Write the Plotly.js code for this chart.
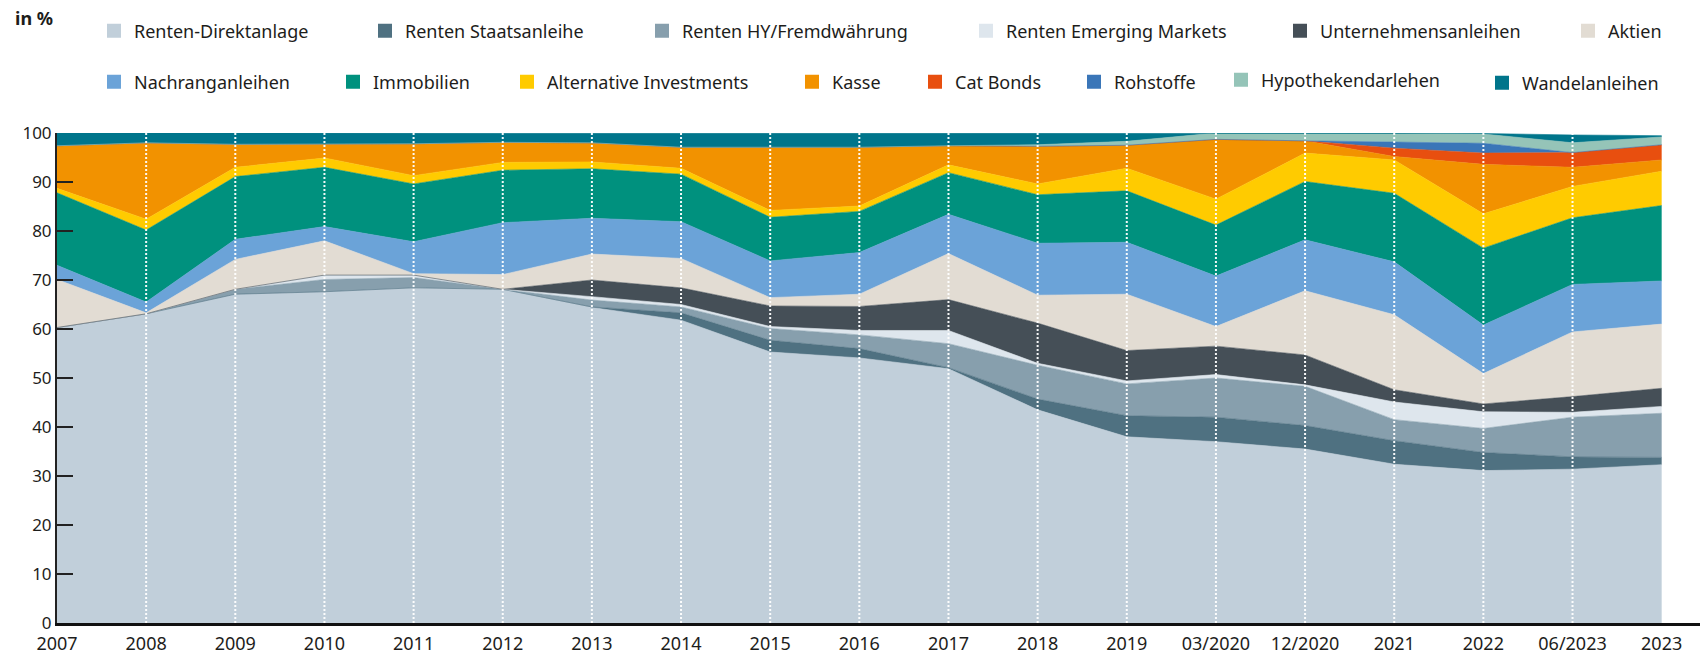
<!DOCTYPE html>
<html><head><meta charset="utf-8">
<script src="https://cdn.plot.ly/plotly-3.0.1.min.js"></script>
<style>html,body{margin:0;padding:0;background:#fff;} #chart{width:1703px;height:656px;}</style>
</head><body><div id="chart"></div>
<script>
// ---- data (values in %) ----
const categories = ["2007","2008","2009","2010","2011","2012","2013","2014","2015","2016","2017","2018","2019","03/2020","12/2020","2021","2022","06/2023","2023"];
const rentenDirektanlage   = [60.3,63.1,67.1,67.6,68.4,68.1,64.4,61.8,55.3,54.1,51.9,43.5,38.0,37.0,35.5,32.4,31.1,31.4,32.3];
const rentenStaatsanleihe  = [0,0,0,0,0,0,0.1,1.5,2.4,1.9,0.2,2.2,4.3,5.0,4.8,4.8,3.7,2.5,1.5];
const rentenHY             = [0,0,1.0,2.5,2.1,0,1.4,1.2,2.4,2.8,4.9,6.9,6.5,8.0,8.0,4.3,4.9,8.1,9.0];
const rentenEmerging       = [0,0,0,0.9,0.5,0,0.7,0.5,0.4,0.9,2.7,0.4,0.6,0.7,0.3,3.6,3.4,1.0,1.4];
const unternehmensanleihen = [0,0,0,0,0,0,3.4,3.4,4.2,4.9,6.3,8.2,6.2,5.8,6.1,2.5,1.6,3.2,3.7];
const aktien               = [9.8,0.2,6.1,7.0,0.3,3.0,5.3,6.0,1.7,2.5,9.4,5.7,11.5,4.0,13.1,15.3,6.2,13.2,13.1];
const nachranganleihen     = [2.9,2.2,4.1,2.9,6.5,10.6,7.3,7.5,7.5,8.5,8.0,10.6,10.6,10.3,10.4,10.8,9.9,9.7,8.8];
const immobilien           = [14.8,14.7,12.8,12.1,11.8,10.7,10.1,9.7,8.9,8.4,8.5,9.9,10.5,10.4,11.9,14.0,15.7,13.6,15.4];
const alternativeInvest    = [0.9,2.2,1.9,1.9,1.7,1.6,1.4,1.2,1.4,1.1,1.6,2.2,4.6,5.3,5.8,6.8,7.0,6.4,7.0];
const kasse                = [8.7,15.6,4.7,2.8,6.5,4.1,3.9,4.3,12.9,12.0,3.9,7.7,4.7,12.2,2.5,0.7,10.1,3.9,2.3];
const catBonds             = [0,0,0,0,0,0,0,0,0,0,0,0,0,0,0,1.7,2.3,3.0,3.1];
const rohstoffe            = [0,0,0,0,0,0,0,0,0,0,0,0,0,0,0,1.3,2.0,0,0];
const hypothekendarlehen   = [0,0,0,0,0,0,0,0,0,0,0,0.3,0.8,1.3,1.6,1.8,1.9,2.0,1.6];
const wandelanleihen       = [2.6,2.0,2.3,2.3,2.2,1.9,2.0,2.9,2.9,2.9,2.6,2.4,1.7,0,0,0,0.1,1.6,0.25];
const yTicks = [0,10,20,30,40,50,60,70,80,90,100];

const seriesNames = ["Renten-Direktanlage","Renten Staatsanleihe","Renten HY/Fremdwährung","Renten Emerging Markets","Unternehmensanleihen","Aktien","Nachranganleihen","Immobilien","Alternative Investments","Kasse","Cat Bonds","Rohstoffe","Hypothekendarlehen","Wandelanleihen"];
const seriesValues = [rentenDirektanlage,rentenStaatsanleihe,rentenHY,rentenEmerging,unternehmensanleihen,aktien,nachranganleihen,immobilien,alternativeInvest,kasse,catBonds,rohstoffe,hypothekendarlehen,wandelanleihen];

// ---- styles ----
const seriesColors = ["#c1cfda","#4f7181","#879fad","#dee6ed","#454f57","#e2dcd3","#6ba3d8","#00917e","#ffcb00","#f29200","#e84f0f","#3a76b8","#95c4b8","#00758b"];
// legend item spots: [text-left px, center-y px] in the 1703x656 page
const legendSpots = [[134,31],[405,31],[682,31],[1006,31],[1320,31],[1608,31],
                     [134,82],[373,82],[547,82],[832,82],[955,82],[1114,82],[1261,80],[1522,83]];
const W = 1703, H = 656;
const FONT = "'Noto Sans', 'Open Sans', sans-serif";
const TXT = "#1d1d1b";

const traces = [];
seriesNames.forEach((name, i) => {
  traces.push({
    type: "scatter", mode: "lines", name: name,
    x: categories, y: seriesValues[i],
    stackgroup: "one", fillcolor: seriesColors[i],
    line: {width: 0.6, color: seriesColors[i], shape: "linear"},
    showlegend: false, legendgroup: "g" + i,
    hovertemplate: name + ": %{y}<extra></extra>"
  });
});
// legend entries (square markers)
seriesNames.forEach((name, i) => {
  traces.push({
    type: "scatter", mode: "markers", name: name,
    x: [categories[0]], y: [null],
    marker: {symbol: "square", size: 14, color: seriesColors[i]},
    showlegend: true, legendgroup: "g" + i,
    legend: i === 0 ? "legend" : "legend" + (i + 1),
    hoverinfo: "skip"
  });
});

// inner category positions (index on the category axis) for the dotted guides
const guideIdx = categories.map((c, k) => k).slice(1, -1);

const layout = {
  width: W, height: H,
  margin: {l: 57, r: 3, t: 133, b: 33},
  paper_bgcolor: "#fff", plot_bgcolor: "#fff",
  font: {family: FONT, color: TXT, size: 17},
  showlegend: true,
  xaxis: {
    type: "category", range: [0, 18.43],
    showline: true, linecolor: "#111", linewidth: 2.5,
    ticks: "", showgrid: false, zeroline: false, ticklabelstandoff: 3,
    tickfont: {size: 18, color: TXT}, fixedrange: true
  },
  yaxis: {
    range: [0, 100], tickmode: "array", tickvals: yTicks, ticktext: yTicks.map(String),
    ticks: "inside", ticklen: 16, tickwidth: 2, tickcolor: "#222",
    showline: true, linecolor: "#222", linewidth: 2,
    showgrid: false, zeroline: false,
    tickfont: {size: 17, color: TXT}, fixedrange: true
  },
  shapes: guideIdx.map(k => ({
    type: "line", xref: "x", yref: "y", x0: k, x1: k, y0: 0, y1: 100,
    line: {color: "rgba(255,255,255,0.95)", width: 2, dash: "2px,2px"}, layer: "above"
  })),
  annotations: [{
    xref: "paper", yref: "paper",
    x: (13 - 57) / (W - 57 - 3), y: (H - 33 - 18) / (H - 133 - 33),
    xanchor: "left", yanchor: "middle", showarrow: false,
    text: "<b>in %</b>", font: {size: 18, color: TXT, family: FONT}
  }]
};
legendSpots.forEach((s, i) => {
  const key = i === 0 ? "legend" : "legend" + (i + 1);
  layout[key] = {
    xref: "container", yref: "container",
    x: (s[0] - 40) / W, y: 1 - s[1] / H,
    xanchor: "left", yanchor: "middle",
    orientation: "h", bgcolor: "rgba(0,0,0,0)", borderwidth: 0,
    font: {size: 18, color: TXT, family: FONT},
    itemwidth: 30, itemclick: false, itemdoubleclick: false
  };
});

Plotly.newPlot("chart", traces, layout, {displayModeBar: false});
</script>
</body></html>
